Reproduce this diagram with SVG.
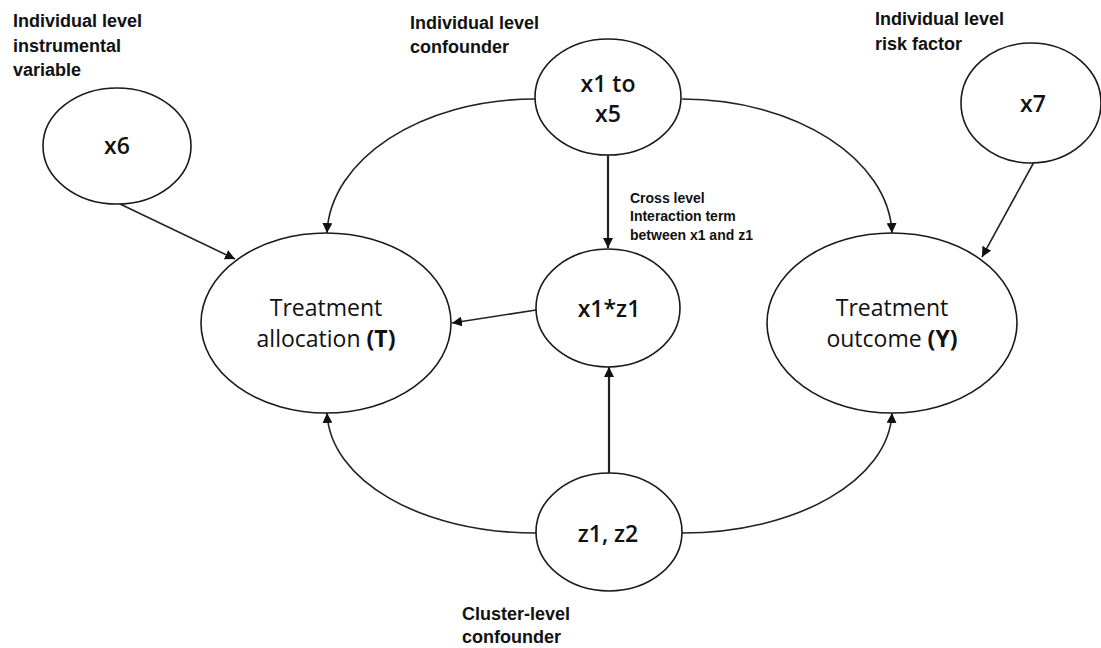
<svg xmlns="http://www.w3.org/2000/svg" width="1101" height="648" viewBox="0 0 1101 648">
<style>
.node ellipse{fill:#fff;stroke:#1a1a1a;stroke-width:1.6}
.lbl{font-family:"Open Sans","Liberation Sans",sans-serif;font-size:23px;fill:#111;text-anchor:middle}
.b{font-weight:600}
.hd{font-family:"Liberation Sans",Arial,sans-serif;font-weight:bold;font-size:18px;fill:#111}
.sm{font-family:"Liberation Sans",Arial,sans-serif;font-weight:bold;font-size:14px;fill:#111}
.edges path,.edges line{fill:none;stroke:#222;stroke-width:1.6;marker-end:url(#ah)}
.edges .thick{stroke-width:2.2}
</style>
<defs>
<marker id="ah" markerUnits="userSpaceOnUse" markerWidth="10" markerHeight="10" viewBox="0 0 8 8" refX="8" refY="4" orient="auto">
<path d="M0,0 L8,4 L0,8 z" fill="#111"/>
</marker>
</defs>
<rect width="1101" height="648" fill="#fff"/>
<g class="edges" id="connectors">
<line x1="120" y1="204" x2="235" y2="259"/>
<path d="M535,99 C420,99 330,160 327,233"/>
<path d="M682,99 C797,99 889,160 892,233"/>
<line class="thick" x1="608" y1="155" x2="608" y2="248"/>
<line x1="536" y1="310" x2="452" y2="323"/>
<line class="thick" x1="609" y1="473" x2="609" y2="367"/>
<path d="M536,533 C420,533 330,480 327,413"/>
<path d="M682,533 C797,533 889,480 892,413"/>
<line x1="1034" y1="162" x2="982" y2="257"/>
</g>
<g class="node" id="x6">
<ellipse cx="117" cy="146" rx="74" ry="58"/>
<text class="lbl b" x="117" y="154">x6</text>
</g>
<g class="node" id="x1to5">
<ellipse cx="608" cy="97" rx="73" ry="58"/>
<text class="lbl b" x="608" y="92">x1 to</text>
<text class="lbl b" x="608" y="122">x5</text>
</g>
<g class="node" id="x7">
<ellipse cx="1031" cy="103" rx="70" ry="60"/>
<text class="lbl b" x="1033" y="112">x7</text>
</g>
<g class="node" id="T">
<ellipse cx="326" cy="323" rx="125" ry="90"/>
<text class="lbl" x="326" y="316">Treatment</text>
<text class="lbl" x="326" y="347">allocation <tspan font-weight="bold">(T)</tspan></text>
</g>
<g class="node" id="x1z1">
<ellipse cx="608" cy="308" rx="72" ry="59"/>
<text class="lbl b" x="609" y="317">x1*z1</text>
</g>
<g class="node" id="Y">
<ellipse cx="892" cy="323" rx="125" ry="90"/>
<text class="lbl" x="892" y="316">Treatment</text>
<text class="lbl" x="892" y="347">outcome <tspan font-weight="bold">(Y)</tspan></text>
</g>
<g class="node" id="z1z2">
<ellipse cx="609" cy="532" rx="73" ry="59"/>
<text class="lbl b" x="608" y="542">z1, z2</text>
</g>
<g id="labels">
<text class="hd" x="13" y="27">Individual level</text>
<text class="hd" x="13" y="52">instrumental</text>
<text class="hd" x="13" y="76">variable</text>
<text class="hd" x="410" y="29">Individual level</text>
<text class="hd" x="410" y="53">confounder</text>
<text class="hd" x="875" y="25">Individual level</text>
<text class="hd" x="875" y="50">risk factor</text>
<text class="sm" x="630" y="203">Cross level</text>
<text class="sm" x="630" y="221">Interaction term</text>
<text class="sm" x="630" y="240">between x1 and z1</text>
<text class="hd" x="462" y="620">Cluster-level</text>
<text class="hd" x="462" y="643">confounder</text>
</g>
</svg>
